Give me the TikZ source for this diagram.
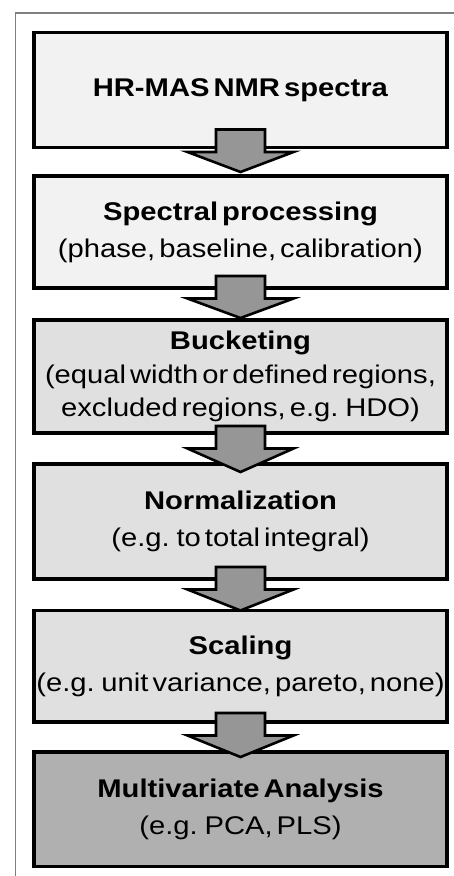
\documentclass[tikz,border=0pt]{standalone}
\usepackage{fontspec}
\setmainfont{Liberation Sans}[FakeStretch=1.14,WordSpace=0.5]
\usetikzlibrary{calc}
\definecolor{frameg}{HTML}{808080}
\definecolor{lightbox}{HTML}{F2F2F2}
\definecolor{midbox}{HTML}{E0E0E0}
\definecolor{darkbox}{HTML}{B0B0B0}
\definecolor{arrowg}{HTML}{969696}
\tikzset{
  stepbox/.style={draw=black, line width=3.2pt, minimum width=413pt, inner sep=0pt,
    outer sep=0pt, align=center, font=\fontsize{25.6}{37}\selectfont},
  barrow/.style={draw=black, fill=arrowg, line width=2.6pt, line join=miter},
}
% #1 from node, #2 to node, #3 shaft top above #1.south, #4 tip below #2.north
\newcommand\blockarr[4]{%
  \draw[barrow] let \p1=(#1.south), \p2=(#2.north) in
    (\x1-24.5pt,\y1+#3) -- (\x1+24.5pt,\y1+#3) -- (\x1+24.5pt,\y1+#3-22.5pt)
    -- (\x1+53pt,\y1+#3-22.5pt) -- (\x1,\y2-#4) -- (\x1-53pt,\y1+#3-22.5pt)
    -- (\x1-24.5pt,\y1+#3-22.5pt) -- cycle;
}
\begin{document}
\begin{tikzpicture}[x=1pt,y=-1pt]
\useasboundingbox (0,0) rectangle (454,876);
\draw[frameg, line width=1.5pt] (15.5,876) -- (15.5,13) -- (454,13);

\node[stepbox, fill=lightbox, minimum height=115pt] (b1) at (240.5,90)
  {\textbf{HR-MAS NMR spectra}};
\node[stepbox, fill=lightbox, minimum height=112pt] (b2) at (240.5,232)
  {\textbf{Spectral processing}\\(phase, baseline, calibration)};
\node[stepbox, fill=midbox, minimum height=113pt, font=\fontsize{25.6}{33.5}\selectfont] (b3) at (240.5,376.5)
  {\textbf{Bucketing}\\(equal width or defined regions,\\excluded regions, e.g. HDO)};
\node[stepbox, fill=midbox, minimum height=115pt] (b4) at (240.5,521.5)
  {\textbf{Normalization}\\(e.g. to total integral)};
\node[stepbox, fill=midbox, minimum height=111.5pt] (b5) at (240.5,666.25)
  {\textbf{Scaling}\\(e.g. unit variance, pareto, none)};
\node[stepbox, fill=darkbox, minimum height=114.5pt] (b6) at (240.5,809.25)
  {\textbf{Multivariate Analysis}\\(e.g. PCA, PLS)};

\blockarr{b1}{b2}{18pt}{-4pt}
\blockarr{b2}{b3}{12pt}{-2pt}
\blockarr{b3}{b4}{7pt}{8pt}
\blockarr{b4}{b5}{12pt}{0pt}
\blockarr{b5}{b6}{9pt}{5pt}
\end{tikzpicture}
\end{document}
